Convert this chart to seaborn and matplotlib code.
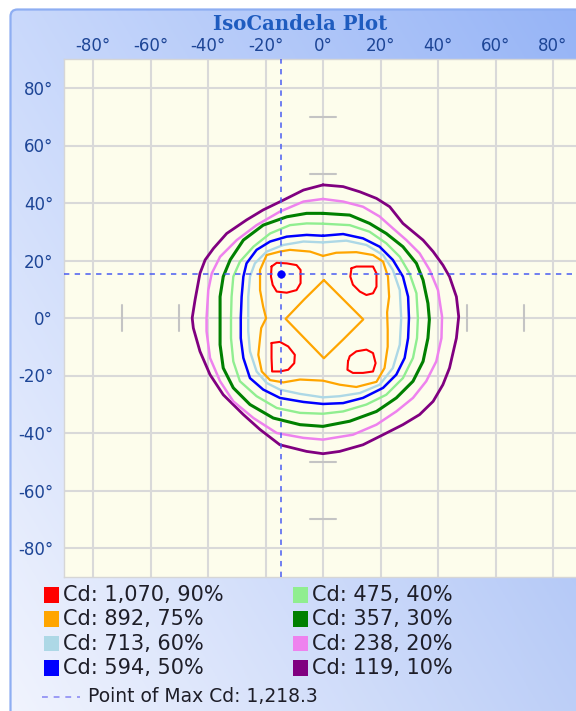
import numpy as np
import pandas as pd
import matplotlib
matplotlib.use("Agg")
import matplotlib.pyplot as plt
import seaborn as sns
from matplotlib.patches import Rectangle, FancyBboxPatch
from matplotlib.lines import Line2D

# ---------------- data (degrees) ----------------
TITLE = "IsoCandela Plot"
TICKS = [-80, -60, -40, -20, 0, 20, 40, 60, 80]
TICK_LABELS = [f"{t}°" for t in TICKS]

LEVEL_NAMES = ["Cd: 1,070, 90%", "Cd: 892, 75%", "Cd: 713, 60%", "Cd: 594, 50%",
               "Cd: 475, 40%", "Cd: 357, 30%", "Cd: 238, 20%", "Cd: 119, 10%"]
LEVEL_COLORS = ["#ff0000", "#ffa500", "#add8e6", "#0000ff",
                "#90ee90", "#008000", "#ee82ee", "#800080"]

MAX_CD_LABEL = "Point of Max Cd: 1,218.3"
MAX_POINT = (-14.6, 15.4)

c10 = [(0, 46.3), (7, 45.7), (12.8, 43.9), (18.6, 41.6), (23.2, 38.7), (27.8, 32.9), (31.3, 30),
       (34.8, 27.1), (38.3, 23.1), (41.7, 18.4), (44, 14.4), (46.4, 7.4), (47.2, 0.5), (46.4, -7),
       (44, -17.4), (41.7, -23.2), (38.3, -29), (33.6, -33.6), (27.8, -37.1), (20.9, -40.6),
       (13.9, -44.1), (5.8, -46.4), (0, -47.2), (-5.7, -46.4), (-15, -44.1), (-21.9, -38.8),
       (-27.7, -33.6), (-34.7, -26.7), (-39.3, -19.7), (-42.8, -11.6), (-45.1, -3.5), (-45.5, 0),
       (-44.5, 6.3), (-42.8, 15.5), (-41, 20.2), (-38.1, 24.2), (-33.5, 29.4), (-26.6, 34.1),
       (-20.8, 37.6), (-13.8, 41), (-6.8, 44.5)]
c20 = [(0, 41.4), (7, 40.5), (13.9, 38.7), (19.7, 35.3), (24.3, 31.2), (29, 27.1), (33.6, 22.5),
       (37.1, 16.7), (40, 9.7), (41.4, 0.5), (41.2, -7), (39.4, -15.1), (35.9, -22), (31.3, -27.8),
       (25.5, -32.5), (18.6, -37.1), (10.4, -40.6), (0, -42.3), (-6.8, -41.7), (-16.1, -40),
       (-24.2, -34.8), (-31.2, -29), (-35.8, -22), (-39.3, -13.9), (-40.5, -4.6), (-40.5, 0),
       (-39.9, 9.7), (-38.7, 15.5), (-35.8, 21.3), (-30, 27.1), (-23.1, 32.3), (-15, 37), (-6.8, 40.5)]
c30 = [(0, 36.4), (9.3, 35.8), (16.2, 32.9), (22, 29.4), (27.8, 24.8), (32.5, 19), (34.8, 13.2),
       (36.5, 5.1), (37, -0.5), (36.5, -7), (34.8, -15.1), (31.3, -22), (25.5, -27.8), (18.6, -32.5),
       (9.3, -35.9), (0, -37.7), (-8, -37.1), (-17.3, -34.8), (-25.4, -30.1), (-31.2, -24.3),
       (-34.7, -17.4), (-35.8, -9.3), (-35.8, 0), (-35.8, 7.4), (-34.7, 14.4), (-32.3, 20.2),
       (-27.7, 27.1), (-20.8, 32.3), (-12.6, 35.2), (-5.7, 36.4)]
c40 = [(0, 32.8), (9.3, 32.3), (16.2, 30), (22, 26), (26.7, 21.3), (30.1, 15.5), (32.5, 8.6), (33, 0),
       (32.7, -7), (31.3, -13.9), (27.8, -20.9), (22, -26.7), (15.1, -30.1), (7, -32.5), (0, -33.3),
       (-8, -33), (-16.1, -31.3), (-23.1, -27.2), (-28.9, -22), (-31.2, -15.1), (-32, -7), (-32, 0),
       (-31.8, 7.4), (-31.2, 14.4), (-28.9, 19.6), (-24.2, 24.8), (-18.4, 29.4), (-11.5, 32.3),
       (-5.7, 32.9)]
c50 = [(0, 28.6), (7, 29.2), (13.9, 27.7), (19.7, 24.8), (24.3, 20.2), (27.8, 14.4), (29.6, 7.4),
       (29.9, 0), (29.6, -7), (28.4, -13.9), (25.5, -19.7), (20.9, -24.3), (13.9, -27.8), (7, -29.6),
       (0, -29.9), (-6.8, -29.2), (-15, -27.8), (-20.8, -24.9), (-25.4, -20.9), (-27.7, -13.9),
       (-28.6, -7), (-28.6, 0), (-28.3, 7.4), (-27.7, 14.4), (-26.6, 19), (-23.1, 23.7),
       (-18.4, 26.6), (-12.6, 28.3), (-5.7, 28.9)]
c60 = [(0, 26.3), (8.1, 26.9), (15.1, 25.4), (20.9, 21.9), (24.3, 16.7), (26.7, 9.7), (27.2, 0),
       (26.7, -9.3), (24.3, -17.4), (19.7, -23.2), (12.8, -26.1), (5.8, -27.2), (0, -27.6),
       (-8, -26.4), (-15, -24.9), (-19.6, -22.6), (-23.1, -18.6), (-25.4, -11.6), (-26, -4.6),
       (-26, 0), (-26, 7.4), (-25.4, 14.4), (-23.7, 19), (-19.6, 23.1), (-13.8, 25.4), (-6.8, 26.6)]
c75_outer = [(0, 21.6), (4.6, 22.7), (11.6, 22.9), (17.4, 21.9), (20.9, 19.6), (22.6, 14.4),
             (23, 7.4), (22.3, 2), (22.5, -4), (22.5, -10), (21.4, -17.4), (18.6, -22.2),
             (11.6, -24), (5.8, -23.2), (0, -21.8), (-8, -21.4), (-13.8, -22.4), (-18.4, -21.6),
             (-21.3, -18.6), (-22.5, -12.8), (-21.9, -7), (-21.5, -3.5), (-19.8, -0.1),
             (-20.8, 3.9), (-21.9, 9.7), (-21.9, 16.7), (-19.6, 21.9), (-15, 23.1), (-11.5, 23.7),
             (-4.5, 23.1)]
c75_inner = [(0.3, 13.2), (7, 6.5), (14, -0.5), (7, -7.5), (0.3, -14), (-6.5, -7), (-13, -0.3), (-6.5, 6.5)]
c90_ul = [(-17.9, 17.9), (-16.1, 19.2), (-12.6, 19), (-9.2, 18.4), (-7.8, 16.7), (-7.8, 12.1),
          (-9.2, 9.7), (-12.6, 8.8), (-16.1, 9.2), (-17.5, 11.5), (-18.1, 14.4)]
c90_ur = [(9.9, 17.3), (11.6, 17.9), (17.4, 17.9), (18.6, 15.5), (18.6, 10.9), (17.4, 8.6),
          (15.1, 8), (12.8, 9.2), (10.4, 11.6), (9.5, 14.4)]
c90_ll = [(-17.9, -8.7), (-15, -8.3), (-12.1, -9.9), (-9.8, -12.8), (-10, -15.7), (-12.1, -18),
          (-15, -18.6), (-17.7, -18.6), (-17.9, -13.9)]
c90_lr = [(8.7, -15.1), (9.3, -13.3), (11.6, -11.6), (15.1, -11), (17.4, -12.2), (18.3, -15.7),
          (17.4, -18.6), (13.9, -19.1), (10.4, -19.1), (8.5, -18)]

CONTOURS = {  # level index -> list of closed pieces
    0: [c90_ul, c90_ur, c90_ll, c90_lr],
    1: [c75_outer, c75_inner],
    2: [c60],
    3: [c50],
    4: [c40],
    5: [c30],
    6: [c20],
    7: [c10],
}
GRATICULE = [50, 70]

# ---------------- build a long table ----------------
rows = []
for lev, pieces in CONTOURS.items():
    for k, pts in enumerate(pieces):
        closed = list(pts) + [pts[0]]
        for j, (x, y) in enumerate(closed):
            rows.append(dict(level=LEVEL_NAMES[lev], piece=f"{lev}-{k}", order=j, x=x, y=y))
df = pd.DataFrame(rows)

# ---------------- figure ----------------
sns.set_theme(style="white")
plt.rcParams["font.family"] = ["DejaVu Sans"]

W, H = 576, 711
fig = plt.figure(figsize=(W / 100, H / 100), dpi=100)
fig.patch.set_facecolor("white")

def fx(px):
    return px / W

def fy(py):
    return 1 - py / H

# gradient background with a rounded border
bg = fig.add_axes([0, 0, 1, 1], zorder=-10)
bg.set_xlim(0, W)
bg.set_ylim(0, H)
bg.axis("off")
tl = np.array([0.79, 0.85, 0.985])
tr = np.array([0.58, 0.70, 0.965])
bl = np.array([0.95, 0.96, 0.995])
br = np.array([0.74, 0.81, 0.97])
u = np.linspace(0, 1, 256)[None, :, None]
v = np.linspace(0, 1, 256)[:, None, None]
img = (1 - u) * (1 - v) * tl + u * (1 - v) * tr + (1 - u) * v * bl + u * v * br
border = FancyBboxPatch((10.5, -30), W + 30, H - 9.5 + 30,
                        boxstyle="round,pad=0,rounding_size=7",
                        facecolor="none", edgecolor="#8eaef2", lw=1.6)
bg.add_patch(border)
im = bg.imshow(img, extent=[10.5, W + 20, -30, H - 9.5], aspect="auto", origin="upper")
im.set_clip_path(border)

# main axes
ax = fig.add_axes([fx(64.25), fy(576.75), 517.5 / W, 517.5 / H])
ax.set_facecolor("#fdfdec")
ax.set_xlim(-90, 90)
ax.set_ylim(-90, 90)
ax.set_xticks(TICKS)
ax.set_yticks(TICKS)
ax.set_xticklabels(TICK_LABELS)
ax.set_yticklabels(TICK_LABELS)
ax.xaxis.tick_top()
ax.tick_params(axis="both", length=0, labelsize=12, labelcolor="#1d4596")
ax.tick_params(axis="x", pad=3)
ax.tick_params(axis="y", pad=8)
ax.grid(True, color="#d9d9d9", lw=1.5)
ax.set_axisbelow(True)
for s in ax.spines.values():
    s.set_color("#d6d6d6")
    s.set_linewidth(1)

# graticule marks
for g in GRATICULE:
    for sgn in (-1, 1):
        ax.plot([-4.5, 4.5], [sgn * g, sgn * g], color="#c4c4c4", lw=1.5, zorder=1)
        ax.plot([sgn * g, sgn * g], [-4.5, 4.5], color="#c4c4c4", lw=1.5, zorder=1)

# contours
widths = [1.5, 1.6, 1.7, 1.8, 1.7, 2.2, 1.8, 2.0]
for lev in range(len(LEVEL_NAMES) - 1, -1, -1):
    sub = df[df["level"] == LEVEL_NAMES[lev]]
    sns.lineplot(data=sub, x="x", y="y", units="piece", estimator=None, sort=False,
                 color=LEVEL_COLORS[lev], lw=widths[lev], ax=ax, legend=False, zorder=3)

# point of max
ax.axvline(MAX_POINT[0], color="#4a5cf2", lw=1.1, ls=(0, (3.5, 3.5)), zorder=4)
ax.axhline(MAX_POINT[1], color="#4a5cf2", lw=1.1, ls=(0, (3.5, 3.5)), zorder=4)
sns.scatterplot(x=[MAX_POINT[0]], y=[MAX_POINT[1]], color="#0000ff", s=30, ax=ax,
                edgecolor="#0000ff", zorder=5, legend=False)
ax.set_xlabel("")
ax.set_ylabel("")

# title
fig.text(fx(300), fy(24), TITLE, ha="center", va="center", fontsize=14.2,
         fontweight="bold", family="DejaVu Serif", color="#1f5cbf")

# legend (two columns of four + max line)
for i, (name, col) in enumerate(zip(LEVEL_NAMES, LEVEL_COLORS)):
    c, r = divmod(i, 4)
    x0 = 44 if c == 0 else 293
    yc = 595 + r * 24.4
    fig.add_artist(Rectangle((fx(x0), fy(yc + 7.5)), 15 / W, 15.5 / H,
                             transform=fig.transFigure, facecolor=col, edgecolor="none"))
    fig.text(fx(x0 + 19), fy(yc), name, ha="left", va="center", fontsize=15,
             color="#1e1e28")
fig.add_artist(Line2D([fx(42), fx(80)], [fy(697), fy(697)], transform=fig.transFigure,
                      color="#9a9af5", lw=1.4, ls=(0, (3, 3))))
fig.text(fx(88), fy(697), MAX_CD_LABEL, ha="left", va="center", fontsize=13.5, color="#1e1e28")

fig.savefig("out.png", dpi=100)
